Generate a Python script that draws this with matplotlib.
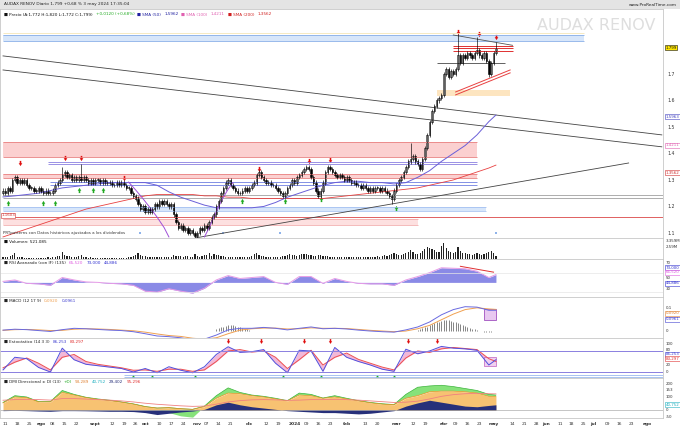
import numpy as np
import pandas as pd
import matplotlib
matplotlib.use('Agg')
import matplotlib.pyplot as plt
from matplotlib.path import Path
from matplotlib.transforms import blended_transform_factory

# ---------------- datos ----------------
holidays = ['2023-12-25', '2023-12-26', '2024-01-01', '2024-03-29', '2024-04-01', '2024-05-01']
first_day = '2023-07-10'
last_axis_day = '2024-08-16'

closes = [
    1.26, 1.25, 1.27, 1.26, 1.30, 1.31, 1.29, 1.30, 1.29, 1.30,
    1.28, 1.27, 1.27, 1.26, 1.26, 1.27, 1.26, 1.25, 1.26, 1.25,
    1.25, 1.26, 1.28, 1.29, 1.30, 1.32, 1.33, 1.31, 1.32, 1.30,
    1.31, 1.30, 1.31, 1.30, 1.31, 1.30, 1.29, 1.30, 1.29, 1.30,
    1.30, 1.29, 1.30, 1.29, 1.29, 1.29, 1.28, 1.28, 1.29, 1.28,
    1.29, 1.28, 1.27, 1.27, 1.25, 1.24, 1.23, 1.21, 1.19, 1.20,
    1.18, 1.19, 1.18, 1.19, 1.21, 1.20, 1.22, 1.21, 1.22, 1.21,
    1.20, 1.21, 1.17, 1.14, 1.12, 1.13, 1.11, 1.12, 1.10, 1.11,
    1.10, 1.09, 1.10, 1.12, 1.11, 1.13, 1.12, 1.14, 1.16, 1.17,
    1.20, 1.22, 1.25, 1.27, 1.29, 1.30, 1.28, 1.27, 1.26, 1.25,
    1.25, 1.26, 1.27, 1.26, 1.27, 1.28, 1.29, 1.32, 1.33, 1.31,
    1.30, 1.29, 1.29, 1.28, 1.28, 1.27, 1.26, 1.25, 1.24, 1.25,
    1.27, 1.28, 1.30, 1.29, 1.31, 1.32, 1.33, 1.34, 1.35, 1.34,
    1.31, 1.29, 1.26, 1.24, 1.26, 1.29, 1.33, 1.35, 1.34, 1.33,
    1.32, 1.31, 1.32, 1.31, 1.30, 1.31, 1.30, 1.29, 1.29, 1.28,
    1.28, 1.27, 1.28, 1.27, 1.26, 1.27, 1.26, 1.27, 1.27, 1.26,
    1.27, 1.26, 1.25, 1.24, 1.23, 1.26, 1.28, 1.30, 1.31, 1.33,
    1.35, 1.37, 1.38, 1.39, 1.37, 1.36, 1.34, 1.38, 1.42, 1.47,
    1.52, 1.56, 1.58, 1.60, 1.61, 1.62, 1.70, 1.72, 1.69, 1.71,
    1.70, 1.72, 1.77, 1.74, 1.77, 1.76, 1.78, 1.77, 1.76, 1.78,
    1.79, 1.77, 1.76, 1.78, 1.75, 1.70, 1.74, 1.78, 1.799,
]
first_open = 1.25
spike_idx = [25, 33, 172, 192, 200, 208]
spike_high = [1.35, 1.36, 1.44, 1.85, 1.84, 1.82]
dip_idx = [164, 205]
dip_low = [1.21, 1.69]

volume = [
    400, 350, 500, 600, 900, 1200, 500, 400, 350, 300,
    300, 250, 300, 280, 250, 300, 260, 240, 300, 350,
    300, 320, 500, 600, 700, 1400, 900, 700, 600, 500,
    450, 500, 700, 900, 400, 350, 300, 320, 300, 280,
    300, 260, 250, 300, 280, 260, 240, 250, 230, 250,
    240, 230, 300, 350, 500, 600, 800, 1300, 900, 700,
    600, 500, 450, 400, 380, 500, 450, 400, 380, 350,
    400, 500, 800, 700, 650, 600, 500, 600, 550, 500,
    450, 1100, 600, 500, 700, 900, 800, 1200, 700, 1000,
    900, 800, 700, 600, 500, 450, 400, 380, 350, 400,
    350, 330, 400, 420, 500, 600, 1000, 1300, 900, 700,
    600, 500, 450, 400, 380, 350, 380, 500, 600, 700,
    800, 1000, 900, 800, 700, 900, 1000, 1100, 1000, 800,
    900, 700, 600, 800, 900, 700, 600, 550, 500, 450,
    400, 420, 380, 400, 380, 400, 350, 380, 340, 360,
    400, 380, 350, 420, 380, 500, 450, 400, 600, 500,
    700, 800, 700, 900, 1000, 1200, 1000, 900, 800, 1000,
    1200, 1500, 1800, 1400, 1100, 1000, 1300, 1600, 2000, 2400,
    2200, 2000, 1800, 1500, 1400, 2600, 3300, 2200, 1600, 1400,
    1200, 1500, 2400, 1600, 1300, 1200, 1100, 1000, 900, 1000,
    1300, 1000, 900, 1100, 1200, 1500, 1600, 1300, 521,
]

# lineas muestreadas cada 5 sesiones (ultimo punto = ultima sesion)
line_x = list(range(0, 209, 5)) + [208]
sma50 = [1.236, 1.24, 1.245, 1.25, 1.26, 1.27, 1.275, 1.28, 1.285, 1.29, 1.29, 1.29, 1.29, 1.28,
         1.255, 1.235, 1.22, 1.205, 1.195, 1.195, 1.195, 1.195, 1.20, 1.215, 1.235, 1.25, 1.265,
         1.28, 1.29, 1.295, 1.295, 1.29, 1.29, 1.285, 1.29, 1.31, 1.335, 1.37, 1.40, 1.43, 1.47,
         1.52, 1.545]
sma200 = [1.085, 1.10, 1.115, 1.13, 1.145, 1.16, 1.175, 1.19, 1.20, 1.21, 1.22, 1.23, 1.24, 1.245,
          1.245, 1.245, 1.245, 1.24, 1.24, 1.235, 1.235, 1.23, 1.23, 1.23, 1.23, 1.23, 1.23, 1.23,
          1.235, 1.24, 1.245, 1.25, 1.255, 1.26, 1.265, 1.27, 1.28, 1.29, 1.30, 1.315, 1.33, 1.345,
          1.356]
# arcos (patron redondeado) dibujados en violeta: (sesion, precio)
arc1_x = [53, 56, 59, 62, 65, 68, 70]
arc1_y = [1.292, 1.262, 1.230, 1.196, 1.160, 1.120, 1.085]
arc2_x = [85, 87, 89, 91, 93, 95, 97]
arc2_y = [1.085, 1.120, 1.160, 1.200, 1.235, 1.265, 1.290]

rsi = [52, 55, 48, 47, 44, 60, 55, 51, 50, 48, 47, 44, 32, 30, 37, 32, 28, 38, 55, 64, 58, 60, 62,
       50, 46, 62, 62, 48, 58, 52, 48, 47, 47, 44, 55, 62, 70, 80, 79, 78, 73, 60, 66]
macd = [0.004, 0.008, 0.006, 0.002, -0.002, 0.006, 0.012, 0.010, 0.007, 0.004, 0.002, -0.003,
        -0.012, -0.022, -0.025, -0.030, -0.040, -0.036, -0.018, 0.005, 0.012, 0.012, 0.016, 0.012,
        0.005, 0.012, 0.018, 0.010, 0.012, 0.009, 0.004, 0.000, -0.003, -0.005, 0.005, 0.018, 0.040,
        0.072, 0.095, 0.108, 0.106, 0.092, 0.092]
macd_signal = [0.003, 0.006, 0.007, 0.005, 0.002, 0.003, 0.008, 0.010, 0.009, 0.007, 0.004, 0.001,
               -0.005, -0.013, -0.020, -0.024, -0.032, -0.036, -0.030, -0.012, 0.004, 0.010, 0.013,
               0.013, 0.009, 0.010, 0.014, 0.012, 0.012, 0.011, 0.007, 0.003, 0.000, -0.003, 0.000,
               0.010, 0.025, 0.050, 0.075, 0.095, 0.103, 0.098, 0.096]
# histograma MACD (sesiones donde se ve en el grafico)
hist1_start = 90
macd_hist1 = [0.008, 0.012, 0.016, 0.020, 0.024, 0.026, 0.027, 0.026, 0.024, 0.020, 0.017, 0.013,
              0.010, 0.007, 0.004]
hist2_start = 175
macd_hist2 = [0.004, 0.008, 0.012, 0.016, 0.020, 0.025, 0.030, 0.034, 0.038, 0.042, 0.045, 0.047,
              0.048, 0.047, 0.045, 0.042, 0.038, 0.034, 0.030, 0.026, 0.022, 0.018, 0.014, 0.010,
              0.007, 0.004, 0.001, -0.002, -0.004, -0.005, -0.004, -0.003, -0.002, -0.002]
stoch_k = [26, 62, 58, 33, 20, 88, 55, 42, 38, 34, 30, 20, 30, 18, 35, 25, 18, 35, 70, 92, 76, 78,
           84, 45, 18, 82, 80, 22, 90, 62, 50, 40, 28, 22, 85, 72, 80, 93, 88, 86, 82, 40, 55]
stoch_d = [32, 48, 60, 45, 26, 62, 70, 50, 42, 37, 32, 25, 26, 22, 28, 28, 22, 26, 50, 80, 84, 77,
           80, 62, 30, 55, 82, 40, 62, 74, 56, 45, 34, 26, 60, 80, 76, 86, 90, 87, 84, 58, 50]
dmi_base = [54, 100, 95, 62, 62, 135, 115, 95, 82, 72, 60, 45, 25, 15, 18, 10, 5, 25, 90, 130, 125,
            110, 100, 85, 70, 115, 110, 90, 100, 85, 70, 55, 45, 40, 90, 110, 140, 145, 145, 140,
            130, 105, 105]
dmi_plus = [58, 110, 100, 65, 65, 150, 120, 98, 85, 75, 62, 47, 27, 5, -20, -45, -55, 30, 110, 170,
            135, 115, 105, 90, 72, 130, 120, 92, 110, 90, 72, 58, 48, 42, 120, 175, 185, 190, 180,
            165, 150, 120, 115]
dmi_minus = [-5, -3, -5, -8, -10, -5, -5, -6, -8, -10, -10, -12, -20, -35, -25, -15, -8, 5, 40, 60,
             40, 25, 15, 5, -5, -10, -15, -20, -20, -25, -30, -25, -15, -5, 30, 55, 75, 60, 45, 30,
             25, 35, 40]
dmi_line = [75, 80, 82, 80, 76, 88, 88, 84, 80, 76, 70, 62, 52, 44, 38, 32, 28, 30, 45, 62, 72, 78,
            80, 78, 74, 76, 80, 80, 82, 80, 76, 70, 64, 58, 60, 68, 85, 105, 118, 125, 128, 125, 124]

# señales
red_arrow_idx = [7, 26, 33, 51, 108, 129, 138, 192, 201, 208]
red_arrow_y = [1.364, 1.383, 1.383, 1.308, 1.342, 1.372, 1.375, 1.858, 1.851, 1.84]
green_arrow_idx = [2, 17, 22, 32, 38, 42, 101, 119, 134, 166]
green_arrow_y = [1.213, 1.213, 1.213, 1.262, 1.262, 1.262, 1.221, 1.221, 1.228, 1.194]
marker_idx = [58, 93, 117, 208]
stoch_red_idx = [95, 109, 127, 138, 171, 183]
stoch_green_idx = [55, 63, 81, 118, 134, 158, 165]

# ---------------- figura ----------------
W, H = 680, 429
X1 = 663
fig = plt.figure(figsize=(W / 100, H / 100), dpi=100)
fig.patch.set_facecolor('white')
R = fig.canvas.get_renderer()

days = pd.bdate_range(first_day, last_axis_day)
days = days[~days.isin(pd.to_datetime(holidays))]
n = len(closes)
x = np.arange(n)
xmin, xmax = -1.27, 278.5


def panel(y0, y1):
    ax = fig.add_axes([0, 1 - y1 / H, X1 / W, (y1 - y0) / H])
    ax.set_xlim(xmin, xmax)
    ax.set_xticks([])
    ax.yaxis.tick_right()
    ax.tick_params(axis='y', length=0, labelsize=3.3, pad=3, colors='#333333')
    for s in ax.spines.values():
        s.set_color('#c8c8c8')
        s.set_linewidth(0.6)
    return ax


def rlabel(ax, v, txt, color='#333333', face=None):
    tr = blended_transform_factory(ax.transAxes, ax.transData)
    kw = {}
    if face is not None:
        kw['bbox'] = dict(boxstyle='square,pad=0.12', fc=face, ec=color, lw=0.4)
    ax.text(1.004, v, txt, transform=tr, fontsize=2.9, color=color, va='center', ha='left',
            clip_on=False, **kw)


def text_row(ax, parts, y, x0=4, size=3.0):
    axw = ax.get_window_extent(R).width
    xx = x0 / axw
    for txt, col in parts:
        t = ax.text(xx, y, txt, transform=ax.transAxes, fontsize=size, color=col, va='top',
                    ha='left')
        xx += (t.get_window_extent(R).width + 3) / axw


arrow_dn = Path([(-0.3, 1), (0.3, 1), (0.3, 0.1), (0.7, 0.1), (0, -1), (-0.7, 0.1), (-0.3, 0.1),
                 (-0.3, 1)], closed=True)
arrow_up = Path([(vx, -vy) for vx, vy in arrow_dn.vertices], closed=True)

# ---- cabecera ----
hdr = fig.add_axes([0, 1 - 9 / H, 1, 9 / H])
hdr.set_axis_off()
hdr.add_patch(plt.Rectangle((0, 0), 1, 1, transform=hdr.transAxes, color='#e4e4e4'))
hdr.text(0.006, 0.5, 'AUDAX RENOV Diario 1,799 +0,68 % 3 may 2024 17:35:04', fontsize=3.1,
         va='center', ha='left', color='#222222')
hdr.text(0.995, 0.5, 'www.ProRealTime.com', fontsize=3.1, va='center', ha='right', color='#222222')

# ---- precio ----
ax = panel(9, 238)
ax.set_ylim(1.081, 1.945)
ax.set_yticks([1.1, 1.2, 1.3, 1.4, 1.5, 1.6, 1.7])
ax.set_yticklabels(['1.1', '1.2', '1.3', '1.4', '1.5', '1.6', '1.7'])

ax.text(0.988, 0.962, 'AUDAX RENOV', transform=ax.transAxes, fontsize=11.5, color='#dedede',
        ha='right', va='top')

# zonas horizontales
ax.fill_between([0, 245], 1.825, 1.847, color='#d7e6fa', lw=0)
ax.hlines([1.825, 1.847], 0, 245, color='#88aee8', lw=0.6)
ax.hlines(1.856, 0, 245, color='#f5e6b8', lw=0.6)
ax.fill_between([0, 200], 1.387, 1.443, color='#fbd0d0', lw=0)
ax.hlines([1.387, 1.443], 0, 200, color='#e88080', lw=0.6)
ax.hlines([1.361, 1.366], 19, 200, color='#8a7fe0', lw=0.6)
ax.fill_between([0, 200], 1.308, 1.323, color='#fbd0d0', lw=0)
ax.hlines([1.308, 1.323], 0, 200, color='#e88080', lw=0.6)
ax.hlines([1.281, 1.293], 20, 200, color='#6f7fe0', lw=0.6)
ax.hlines([1.232, 1.243], 0, xmax, color='#a0a0a0', lw=0.6)
ax.fill_between([0, 204], 1.183, 1.198, color='#d7e6fa', lw=0)
ax.hlines([1.183, 1.198], 0, 204, color='#9ab9ef', lw=0.5)
ax.hlines(1.160, 0, xmax, color='#e06060', lw=0.7)
ax.fill_between([0, 175], 1.130, 1.153, color='#fde0e0', lw=0)
ax.hlines([1.130, 1.153], 0, 175, color='#f0a0a0', lw=0.5)
ax.text(-0.8, 1.167, '1.1603', fontsize=2.9, color='#d03030', va='center',
        bbox=dict(boxstyle='square,pad=0.1', fc='white', ec='#d03030', lw=0.4))

# zonas de la derecha
ax.fill_between([183, 214], 1.617, 1.640, color='#fde5c0', lw=0)
ax.hlines([1.787, 1.798, 1.806], 190, 215, color='#e03030', lw=0.7)
ax.hlines(1.742, 183, 212, color='#222222', lw=0.5)
ax.plot([190, 215], [1.847, 1.808], color='#555555', lw=0.6)
ax.plot([191, 214], [1.632, 1.715], color='#e84040', lw=0.7)
ax.plot([191, 214], [1.621, 1.704], color='#e84040', lw=0.7)

# lineas de tendencia
ax.plot([0, 278], [1.768, 1.470], color='#444444', lw=0.6)
ax.plot([0, 278], [1.715, 1.425], color='#444444', lw=0.6)
ax.plot([81, 264], [1.081, 1.364], color='#444444', lw=0.6)

# medias y arcos
ax.plot(line_x, sma200, color='#e84040', lw=0.6)
ax.plot(line_x, sma50, color='#6a5fd8', lw=0.7)
ax.plot(arc1_x, arc1_y, color='#a050d8', lw=0.7)
ax.plot(arc2_x, arc2_y, color='#a050d8', lw=0.7)

# velas
opens = [first_open] + closes[:-1]
highs = [max(o, c) + 0.008 for o, c in zip(opens, closes)]
lows = [min(o, c) - 0.008 for o, c in zip(opens, closes)]
for i, h in zip(spike_idx, spike_high):
    highs[i] = h
for i, l in zip(dip_idx, dip_low):
    lows[i] = l
ax.vlines(x, lows, highs, color='black', lw=0.45)
up = np.array(closes) >= np.array(opens)
body_lo = np.minimum(opens, closes)
body_h = np.maximum(np.abs(np.array(closes) - np.array(opens)), 0.002)
ax.bar(x[up], body_h[up], bottom=body_lo[up], width=0.62, color='white', edgecolor='black',
       linewidth=0.4)
ax.bar(x[~up], body_h[~up], bottom=body_lo[~up], width=0.62, color='black', edgecolor='black',
       linewidth=0.4)

ax.scatter(red_arrow_idx, red_arrow_y, marker=arrow_dn, s=14, color='#e01010', lw=0)
ax.scatter(green_arrow_idx, green_arrow_y, marker=arrow_up, s=14, color='#22aa22', lw=0)
ax.scatter(marker_idx, [1.10] * len(marker_idx), marker='s', s=3, color='#8fb3ea', lw=0)

# etiquetas eje derecho
rlabel(ax, 1.799, '1.799', '#111111', '#ffe600')
rlabel(ax, 1.538, '1.5963', '#4040c0', 'white')
rlabel(ax, 1.43, '1.4211', '#e060b0', 'white')
rlabel(ax, 1.327, '1.3562', '#d03030', 'white')

# leyenda
text_row(ax, [('■ Precio (A:1,772 H:1,820 L:1,772 C:1,799)', '#111111'),
              ('+0,0120 (+0,68%)', '#22aa22'),
              ('■ SMA (50)', '#2020a0'), ('1,5962', '#2020a0'),
              ('■ SMA (100)', '#e060b0'), ('1,4211', '#e060b0'),
              ('■ SMA (200)', '#d02020'), ('1,3562', '#d02020')], 0.985)
ax.text(0.005, 0.012, 'PRTpatterns con Datos históricos ajustados a los dividendos',
        transform=ax.transAxes, fontsize=2.9, color='#333333', va='bottom')

# ---- volumen ----
axv = panel(238, 259)
axv.set_ylim(0, 4200)
axv.set_yticks([])
axv.bar(x, volume, width=0.5, color='#222222', lw=0)
text_row(axv, [('■ Volumen: 521.085', '#111111')], 0.93)
rlabel(axv, 3600, '3.359M')
rlabel(axv, 2500, '2.59M')

# ---- RSI ----
axr = panel(259, 297)
axr.set_ylim(20, 98)
axr.set_yticks([])
axr.fill_between(line_x, rsi, 50, color='#8a8ae6', lw=0)
axr.plot(line_x, rsi, color='#e79be6', lw=0.7)
axr.plot([193, 207], [83, 71], color='#e03030', lw=0.7)
axr.hlines([70, 30], xmin, xmax, color='#e6e6e6', lw=0.5)
text_row(axr, [('■ RSI Avanzado (con IF) (135)', '#222222'), ('65,520', '#e060e0'),
               ('73,000', '#3030d0'), ('44,886', '#3030d0')], 0.95)
rlabel(axr, 89, '70')
rlabel(axr, 80, '73,000', '#3030d0', 'white')
rlabel(axr, 71, '65,520', '#e060e0', 'white')
rlabel(axr, 59, '50')
rlabel(axr, 48, '44,886', '#3030d0', 'white')
rlabel(axr, 37, '30')

# ---- MACD ----
axm = panel(297, 338)
axm.set_ylim(-0.031, 0.151)
axm.set_yticks([])
h1x = np.arange(hist1_start, hist1_start + len(macd_hist1))
h2x = np.arange(hist2_start, hist2_start + len(macd_hist2))
axm.vlines(h1x, 0, macd_hist1, color='#555555', lw=0.5)
axm.vlines(h2x, 0, macd_hist2, color='#555555', lw=0.5)
axm.plot(line_x, macd_signal, color='#f0a050', lw=0.7)
axm.plot(line_x, macd, color='#6a6ae0', lw=0.7)
axm.add_patch(plt.Rectangle((203, 0.049), 5, 0.049, fc='#e8c8f0', ec='#a050c0', lw=0.6))
text_row(axm, [('■ MACD (12 17 9)', '#222222'), ('0,0920', '#f0a050'), ('0,0961', '#4040d0')],
         0.95)
rlabel(axm, 0.10, '0.1')
rlabel(axm, 0.078, '0,0920', '#e08030', 'white')
rlabel(axm, 0.052, '0,0961', '#4040d0', 'white')
rlabel(axm, 0.0, '0')

# ---- Estocastico ----
axs = panel(338, 378)
axs.set_ylim(2.9, 117)
axs.set_yticks([])
axs.fill_between(line_x, stoch_k, stoch_d, color='#f2b8d8', lw=0)
axs.plot(line_x, stoch_d, color='#ee5050', lw=0.7)
axs.plot(line_x, stoch_k, color='#5050dd', lw=0.7)
axs.hlines([80, 20], xmin, xmax, color='#8a7fe0', lw=0.7)
axs.hlines([11, 6], 51, xmax, color='#9ab9ef', lw=0.6)
axs.add_patch(plt.Rectangle((203, 38), 5, 25, fc='#f0d0f0', ec='#c060c0', lw=0.5))
axs.scatter(stoch_red_idx, [108] * len(stoch_red_idx), marker=arrow_dn, s=12, color='#e01010',
            lw=0)
axs.scatter(stoch_green_idx, [5] * len(stoch_green_idx), marker=arrow_up, s=12,
            color='#22aa22', lw=0, clip_on=False)
text_row(axs, [('■ Estocástico (14 3 3)', '#222222'), ('86,253', '#4040d0'),
               ('83,297', '#e03030')], 0.95)
rlabel(axs, 101, '100')
rlabel(axs, 84, '80')
rlabel(axs, 70, '86,253', '#4040d0', 'white')
rlabel(axs, 58, '83,297', '#e03030', 'white')
rlabel(axs, 40, '20')
rlabel(axs, 20, '0')

# ---- DMI ----
axd = panel(378, 418)
axd.set_ylim(-61.5, 246)
axd.set_yticks([])
lx = np.array(line_x)
b = np.array(dmi_base)
p = np.array(dmi_plus)
m = np.array(dmi_minus)
axd.fill_between(lx, 0, b, color='#f7c272', lw=0)
axd.fill_between(lx, b, p, where=p > b, interpolate=True, color='#86e27a', lw=0)
axd.fill_between(lx, 0, p, where=p < 0, interpolate=True, color='#86e27a', lw=0)
axd.fill_between(lx, 0, m, color='#27307a', lw=0)
axd.plot(lx, np.maximum(p, b), color='#3cb43c', lw=0.5)
axd.plot(lx, b, color='#e8901a', lw=0.5)
axd.plot(lx, dmi_line, color='#f08080', lw=0.6)
axd.hlines(0, xmin, xmax, color='#999999', lw=0.4)
text_row(axd, [('■ DMI Direccional ± DI (13)', '#222222'), ('+DI', '#22aa22'),
               ('93,289', '#e08030'), ('40,752', '#20b0c0'), ('29,402', '#27307a'),
               ('95,296', '#e03030')], 0.95)
rlabel(axd, 200, '200')
rlabel(axd, 153, '153')
rlabel(axd, 100, '100')
rlabel(axd, 40, '40,752', '#20b0c0', 'white')
rlabel(axd, 0, '0')
rlabel(axd, -50, '-50')

# ---- eje de fechas ----
month_abbr = {1: 'ene', 2: 'feb', 3: 'mar', 4: 'abr', 5: 'may', 6: 'jun', 7: 'jul', 8: 'ago',
              9: 'sept', 10: 'oct', 11: 'nov', 12: 'dic'}
month_pos = [k for k in range(1, len(days)) if days[k].month != days[k - 1].month]
tick_pos, tick_lab, tick_bold = [], [], []
for k, d in enumerate(days):
    if k > xmax:
        break
    if k in month_pos:
        tick_pos.append(k)
        tick_lab.append('2024' if d.month == 1 else month_abbr[d.month])
        tick_bold.append(True)
    elif d.weekday() == 1 and all((mp - k) > 3 or (k - mp) > 3 for mp in month_pos):
        tick_pos.append(k)
        tick_lab.append(d.strftime('%d'))
        tick_bold.append(False)
axd.set_xticks(tick_pos)
axd.set_xticklabels(tick_lab)
axd.tick_params(axis='x', length=0, labelsize=3.2, pad=3, colors='#333333')
for t, bold in zip(axd.get_xticklabels(), tick_bold):
    if bold:
        t.set_fontweight('bold')

fig.savefig('out.png', dpi=100)
